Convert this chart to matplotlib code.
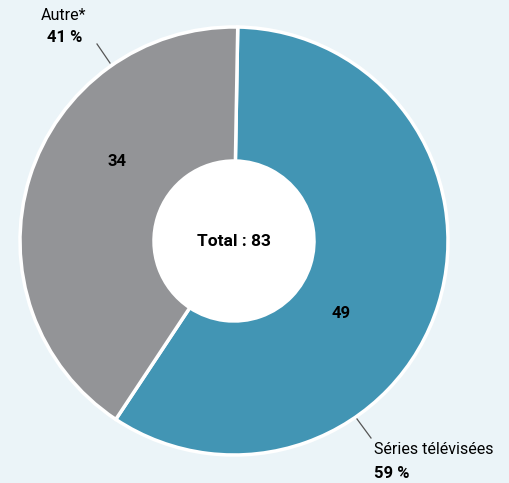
import matplotlib.pyplot as plt
from matplotlib import font_manager
from matplotlib.patches import Circle

categories = ["Séries télévisées", "Autre*"]
values = [49, 34]
colors = ["#4295b4", "#939497"]
bg = "#ebf4f8"

names = {f.name for f in font_manager.fontManager.ttflist}
fam = ["Liberation Sans Narrow", "DejaVu Sans"] if "Liberation Sans Narrow" in names else ["Roboto", "DejaVu Sans"]
plt.rcParams['font.family'] = fam

W, H = 509, 483
fig = plt.figure(figsize=(W / 100, H / 100), dpi=100, facecolor=bg)
ax = fig.add_axes([0, 0, 1, 1])
ax.set_facecolor(bg)

cx, cy, r, r_in = 234, H - 241, 214, 80
total = sum(values)
ax.pie(values, colors=colors, startangle=89, counterclock=False,
       center=(cx, cy), radius=r, frame=True,
       wedgeprops=dict(width=r - r_in, edgecolor='white', linewidth=2.5))
ax.add_patch(Circle((cx, cy), r_in, facecolor='white', edgecolor='none', zorder=3))
ax.set_xlim(0, W)
ax.set_ylim(0, H)
ax.set_aspect('equal')
ax.axis('off')

# values inside the ring
ax.text(341, H - 314, str(values[0]), ha='center', va='center', fontsize=12, fontweight='bold')
ax.text(117, H - 161, str(values[1]), ha='center', va='center', fontsize=12, fontweight='bold')
ax.text(cx, cy, f"Total : {total}", ha='center', va='center', fontsize=12.5,
        fontweight='bold', zorder=4)

# outside labels with leader lines
pct = [round(v / total * 100) for v in values]
ax.plot([357, 371], [H - 419, H - 438], color='#555555', lw=0.9)
ax.text(374, H - 449, categories[0], ha='left', va='center', fontsize=11.5)
ax.text(374, H - 473, f"{pct[0]} %", ha='left', va='center', fontsize=12, fontweight='bold')
ax.plot([97, 110], [H - 44, H - 63], color='#555555', lw=0.9)
ax.text(64, H - 15, categories[1], ha='center', va='center', fontsize=11.5)
ax.text(65, H - 38, f"{pct[1]} %", ha='center', va='center', fontsize=12, fontweight='bold')

fig.savefig("out.png", dpi=100, facecolor=bg)
